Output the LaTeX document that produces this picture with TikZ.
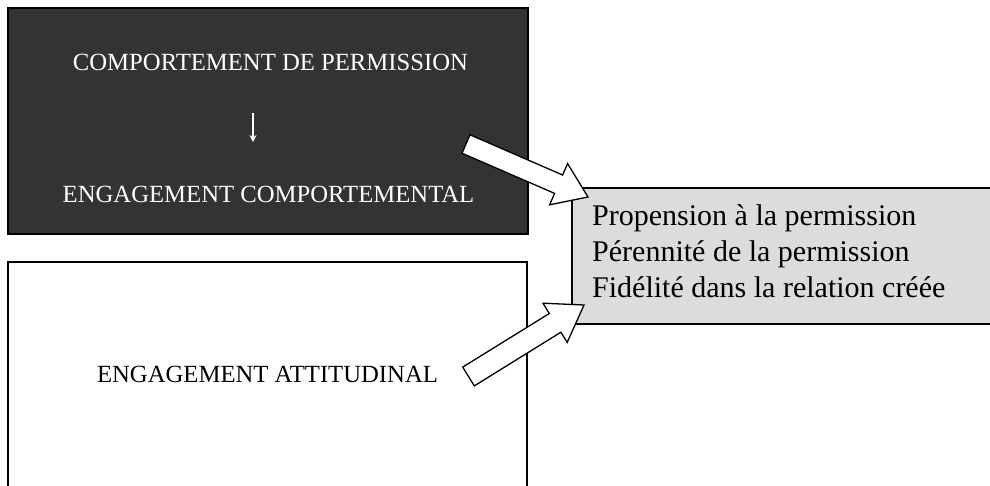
\documentclass[tikz,border=0pt]{standalone}
\usepackage{fontspec}
\setmainfont{Liberation Serif}
\usetikzlibrary{arrows.meta}
\tikzset{
  boxframe/.style={draw=black, line width=1.3pt, inner sep=0pt},
  smalltxt/.style={font=\fontsize{24.7}{29}\selectfont, anchor=base, inner sep=0pt},
  bigtxt/.style={font=\fontsize{30}{36}\selectfont, anchor=base west, inner sep=0pt},
  blockarrow/.style={draw=black, fill=white, line width=1.3pt, line join=miter}
}
\definecolor{darkfill}{HTML}{333333}
\definecolor{grayfill}{HTML}{DCDCDC}
\begin{document}
\begin{tikzpicture}[x=1pt,y=-1pt]
\useasboundingbox (0,0) rectangle (990,485);
\clip (0,0) rectangle (990,485);
% boxes
\node[boxframe, fill=darkfill, minimum width=520pt, minimum height=226pt] (dark) at (268,121) {};
\node[boxframe, fill=white, minimum width=519pt, minimum height=240pt] (white) at (267.5,382) {};
\node[boxframe, fill=grayfill, minimum width=438pt, minimum height=136pt] (gray) at (791,256) {};
% texts
\node[smalltxt, text=white] (t1) at (270.5,70) {COMPORTEMENT DE PERMISSION};
\node[smalltxt, text=white] (t2) at (268.5,202) {ENGAGEMENT COMPORTEMENTAL};
\node[smalltxt, text=black] (t3) at (267.5,382) {ENGAGEMENT ATTITUDINAL};
\node[bigtxt] (g1) at (592,225) {Propension à la permission};
\node[bigtxt] (g2) at (592,261) {Pérennité de la permission};
\node[bigtxt] (g3) at (592,297) {Fidélité dans la relation créée};
% small down arrow
\coordinate (da) at (253,113);
\coordinate (db) at (253,142);
\draw[white, line width=1.4pt, -{Stealth[length=7pt,width=7pt]}] (da) -- (db);
% block arrows
\draw[blockarrow] (462.0,153.2) -- (470.0,134.8) -- (562.6,175.0) -- (567.6,163.6)
  -- (588,197) -- (549.6,204.8) -- (554.6,193.4) -- cycle;
\draw[blockarrow] (474.3,385.9) -- (462.7,367.1) -- (549.3,313.5) -- (543.0,303.2)
  -- (584,305) -- (567.2,342.4) -- (560.9,332.2) -- cycle;
\end{tikzpicture}
\end{document}
